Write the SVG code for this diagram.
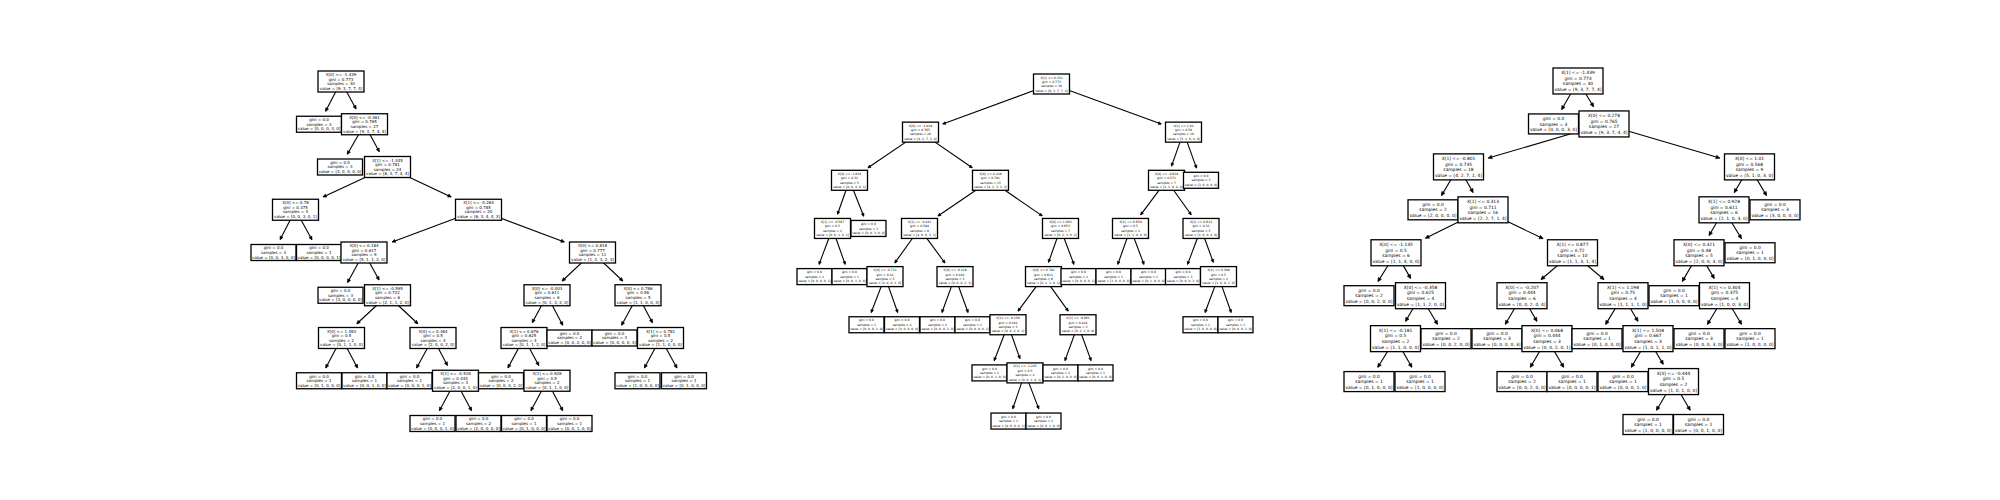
<svg xmlns="http://www.w3.org/2000/svg" width="2000" height="500" viewBox="0 0 2000 500">
<style>
.b{fill:#fff;stroke:#000;stroke-width:1.3}
.s1,.s2,.s3{font-family:"DejaVu Sans",sans-serif;text-anchor:middle;fill:#000}
.s1{font-size:4px}
.s2{font-size:3.05px}
.s3{font-size:4.4px}
.e line{stroke:#000;stroke-width:1.1;fill:none}
</style>
<defs>
<marker id="ah1" markerUnits="userSpaceOnUse" markerWidth="1" markerHeight="1" refX="0" refY="0" orient="auto" overflow="visible"><path d="M-3.2,-1.6 L0,0 L-3.2,1.6 Z" fill="#000" stroke="#000" stroke-width="0.6" stroke-linejoin="round"/></marker>
<marker id="ah2" markerUnits="userSpaceOnUse" markerWidth="1" markerHeight="1" refX="0" refY="0" orient="auto" overflow="visible"><path d="M-2.8,-1.4 L0,0 L-2.8,1.4 Z" fill="#000" stroke="#000" stroke-width="0.6" stroke-linejoin="round"/></marker>
<marker id="ah3" markerUnits="userSpaceOnUse" markerWidth="1" markerHeight="1" refX="0" refY="0" orient="auto" overflow="visible"><path d="M-3.6,-1.8 L0,0 L-3.6,1.8 Z" fill="#000" stroke="#000" stroke-width="0.6" stroke-linejoin="round"/></marker>
</defs>
<rect x="0" y="0" width="2000" height="500" fill="#fff"/>

<g id="edges-tree1" class="e" marker-end="url(#ah1)">
<line x1="341" y1="81.5" x2="325.63" y2="111.36"/>
<line x1="341" y1="81.5" x2="356.08" y2="108.93"/>
<line x1="364.5" y1="124.25" x2="347.32" y2="154.23"/>
<line x1="364.5" y1="124.25" x2="379.25" y2="151.66"/>
<line x1="387.5" y1="167" x2="323.08" y2="196.93"/>
<line x1="387.5" y1="167" x2="451.17" y2="196.91"/>
<line x1="295.5" y1="209.75" x2="280.13" y2="239.61"/>
<line x1="295.5" y1="209.75" x2="311.95" y2="239.68"/>
<line x1="478.5" y1="209.75" x2="392.16" y2="241.99"/>
<line x1="478.5" y1="209.75" x2="564.34" y2="241.94"/>
<line x1="364" y1="252.5" x2="347.55" y2="282.43"/>
<line x1="364" y1="252.5" x2="379.08" y2="279.93"/>
<line x1="592.5" y1="252.5" x2="562.18" y2="280.98"/>
<line x1="592.5" y1="252.5" x2="622.82" y2="280.98"/>
<line x1="387.5" y1="295.25" x2="356.83" y2="323.76"/>
<line x1="387.5" y1="295.25" x2="417.82" y2="323.73"/>
<line x1="547" y1="295.25" x2="532.25" y2="322.66"/>
<line x1="547" y1="295.25" x2="562.73" y2="325.14"/>
<line x1="638" y1="295.25" x2="621.55" y2="325.18"/>
<line x1="638" y1="295.25" x2="652.41" y2="322.64"/>
<line x1="341.5" y1="338" x2="325.77" y2="367.89"/>
<line x1="341.5" y1="338" x2="357.59" y2="367.91"/>
<line x1="433" y1="338" x2="416.55" y2="367.93"/>
<line x1="433" y1="338" x2="447.41" y2="365.39"/>
<line x1="524" y1="338" x2="507.91" y2="367.91"/>
<line x1="524" y1="338" x2="538.75" y2="365.41"/>
<line x1="660.5" y1="338" x2="644.41" y2="367.91"/>
<line x1="660.5" y1="338" x2="676.95" y2="367.93"/>
<line x1="455.5" y1="380.75" x2="439.41" y2="410.66"/>
<line x1="455.5" y1="380.75" x2="471.59" y2="410.66"/>
<line x1="547" y1="380.75" x2="530.91" y2="410.66"/>
<line x1="547" y1="380.75" x2="562.73" y2="410.64"/>
</g>

<g id="edges-tree2" class="e" marker-end="url(#ah2)">
<line x1="1051.5" y1="84" x2="942.72" y2="123.98"/>
<line x1="1051.5" y1="84" x2="1161.27" y2="124.04"/>
<line x1="920.5" y1="132.15" x2="867.97" y2="167.77"/>
<line x1="920.5" y1="132.15" x2="972.25" y2="167.75"/>
<line x1="1183.5" y1="132.15" x2="1171.53" y2="166.06"/>
<line x1="1183.5" y1="132.15" x2="1196.56" y2="168.07"/>
<line x1="849.5" y1="180.3" x2="837.53" y2="214.21"/>
<line x1="849.5" y1="180.3" x2="863.69" y2="216.27"/>
<line x1="990.5" y1="180.3" x2="937.97" y2="215.92"/>
<line x1="990.5" y1="180.3" x2="1042.25" y2="215.9"/>
<line x1="1166.5" y1="180.3" x2="1140.67" y2="214.84"/>
<line x1="1166.5" y1="180.3" x2="1191.21" y2="214.79"/>
<line x1="832.5" y1="228.45" x2="819.06" y2="264.39"/>
<line x1="832.5" y1="228.45" x2="845.18" y2="264.36"/>
<line x1="919.5" y1="228.45" x2="894.79" y2="262.94"/>
<line x1="919.5" y1="228.45" x2="944.96" y2="262.98"/>
<line x1="1060.5" y1="228.45" x2="1048.53" y2="262.36"/>
<line x1="1060.5" y1="228.45" x2="1073.94" y2="264.39"/>
<line x1="1130.5" y1="228.45" x2="1117.82" y2="264.36"/>
<line x1="1130.5" y1="228.45" x2="1143.94" y2="264.39"/>
<line x1="1201" y1="228.45" x2="1187.56" y2="264.39"/>
<line x1="1201" y1="228.45" x2="1213.33" y2="262.37"/>
<line x1="885" y1="276.6" x2="871.19" y2="312.55"/>
<line x1="885" y1="276.6" x2="897.68" y2="312.51"/>
<line x1="955" y1="276.6" x2="941.94" y2="312.52"/>
<line x1="955" y1="276.6" x2="968.06" y2="312.52"/>
<line x1="1043.5" y1="276.6" x2="1018.04" y2="311.13"/>
<line x1="1043.5" y1="276.6" x2="1068.21" y2="311.09"/>
<line x1="1218.5" y1="276.6" x2="1205.06" y2="312.54"/>
<line x1="1218.5" y1="276.6" x2="1231.18" y2="312.51"/>
<line x1="1008" y1="324.75" x2="994.19" y2="360.7"/>
<line x1="1008" y1="324.75" x2="1019.97" y2="358.66"/>
<line x1="1078" y1="324.75" x2="1064.94" y2="360.67"/>
<line x1="1078" y1="324.75" x2="1091.06" y2="360.67"/>
<line x1="1025" y1="372.9" x2="1012.7" y2="408.8"/>
<line x1="1025" y1="372.9" x2="1038.81" y2="408.85"/>
</g>

<g id="edges-tree3" class="e" marker-end="url(#ah3)">
<line x1="1578" y1="81" x2="1561.68" y2="109.6"/>
<line x1="1578" y1="81" x2="1593.54" y2="106.67"/>
<line x1="1604" y1="123.94" x2="1488.3" y2="158.09"/>
<line x1="1604" y1="123.94" x2="1719.7" y2="158.09"/>
<line x1="1458.5" y1="166.88" x2="1441.49" y2="195.52"/>
<line x1="1458.5" y1="166.88" x2="1473.11" y2="192.48"/>
<line x1="1749.5" y1="166.88" x2="1734.27" y2="192.52"/>
<line x1="1749.5" y1="166.88" x2="1766.51" y2="195.52"/>
<line x1="1483" y1="209.82" x2="1425.48" y2="238.21"/>
<line x1="1483" y1="209.82" x2="1542.99" y2="238.6"/>
<line x1="1724" y1="209.82" x2="1709.08" y2="235.44"/>
<line x1="1724" y1="209.82" x2="1741.35" y2="238.48"/>
<line x1="1396" y1="252.76" x2="1377.95" y2="281.47"/>
<line x1="1396" y1="252.76" x2="1410.61" y2="278.36"/>
<line x1="1572.5" y1="252.76" x2="1541.09" y2="279.46"/>
<line x1="1572.5" y1="252.76" x2="1603.91" y2="279.46"/>
<line x1="1699" y1="252.76" x2="1682.34" y2="281.38"/>
<line x1="1699" y1="252.76" x2="1714.23" y2="278.4"/>
<line x1="1420.5" y1="295.7" x2="1405.58" y2="321.32"/>
<line x1="1420.5" y1="295.7" x2="1437.51" y2="324.34"/>
<line x1="1522" y1="295.7" x2="1505.34" y2="324.32"/>
<line x1="1522" y1="295.7" x2="1536.92" y2="321.32"/>
<line x1="1623" y1="295.7" x2="1605.65" y2="324.36"/>
<line x1="1623" y1="295.7" x2="1637.92" y2="321.32"/>
<line x1="1724.5" y1="295.7" x2="1707.49" y2="324.34"/>
<line x1="1724.5" y1="295.7" x2="1741.51" y2="324.34"/>
<line x1="1395.5" y1="338.64" x2="1377.8" y2="367.32"/>
<line x1="1395.5" y1="338.64" x2="1411.82" y2="367.24"/>
<line x1="1547" y1="338.64" x2="1530.34" y2="367.26"/>
<line x1="1547" y1="338.64" x2="1563.66" y2="367.26"/>
<line x1="1648" y1="338.64" x2="1631.34" y2="367.26"/>
<line x1="1648" y1="338.64" x2="1663.23" y2="364.28"/>
<line x1="1673.5" y1="381.58" x2="1656.49" y2="410.22"/>
<line x1="1673.5" y1="381.58" x2="1690.16" y2="410.2"/>
</g>

<g id="tree1">
<g id="t1-a"><rect class="b" x="318" y="71" width="46" height="21"/><text class="s1" x="341" y="76.04"><tspan x="341">X[0] &lt;= -1.439</tspan><tspan x="341" dy="4.6">gini = 0.773</tspan><tspan x="341" dy="4.6">samples = 30</tspan><tspan x="341" dy="4.6">value = [9, 3, 7, 7, 4]</tspan></text></g>
<g id="t1-b"><rect class="b" x="296.5" y="116.25" width="45" height="16"/><text class="s1" x="319" y="121.09"><tspan x="319">gini = 0.0</tspan><tspan x="319" dy="4.6">samples = 3</tspan><tspan x="319" dy="4.6">value = [0, 0, 0, 3, 0]</tspan></text></g>
<g id="t1-c"><rect class="b" x="341.5" y="113.75" width="46" height="21"/><text class="s1" x="364.5" y="118.79"><tspan x="364.5">X[0] &lt;= -0.461</tspan><tspan x="364.5" dy="4.6">gini = 0.765</tspan><tspan x="364.5" dy="4.6">samples = 27</tspan><tspan x="364.5" dy="4.6">value = [9, 3, 7, 4, 4]</tspan></text></g>
<g id="t1-d"><rect class="b" x="317.5" y="159" width="45" height="16"/><text class="s1" x="340" y="163.84"><tspan x="340">gini = 0.0</tspan><tspan x="340" dy="4.6">samples = 3</tspan><tspan x="340" dy="4.6">value = [3, 0, 0, 0, 0]</tspan></text></g>
<g id="t1-e"><rect class="b" x="364.5" y="156.5" width="46" height="21"/><text class="s1" x="387.5" y="161.54"><tspan x="387.5">X[1] &lt;= -1.445</tspan><tspan x="387.5" dy="4.6">gini = 0.781</tspan><tspan x="387.5" dy="4.6">samples = 24</tspan><tspan x="387.5" dy="4.6">value = [6, 3, 7, 4, 4]</tspan></text></g>
<g id="t1-f"><rect class="b" x="272.5" y="199.25" width="46" height="21"/><text class="s1" x="295.5" y="204.29"><tspan x="295.5">X[0] &lt;= 0.78</tspan><tspan x="295.5" dy="4.6">gini = 0.375</tspan><tspan x="295.5" dy="4.6">samples = 4</tspan><tspan x="295.5" dy="4.6">value = [0, 0, 3, 0, 1]</tspan></text></g>
<g id="t1-g"><rect class="b" x="455.5" y="199.25" width="46" height="21"/><text class="s1" x="478.5" y="204.29"><tspan x="478.5">X[1] &lt;= -0.264</tspan><tspan x="478.5" dy="4.6">gini = 0.785</tspan><tspan x="478.5" dy="4.6">samples = 20</tspan><tspan x="478.5" dy="4.6">value = [6, 3, 4, 4, 3]</tspan></text></g>
<g id="t1-h"><rect class="b" x="251" y="244.5" width="45" height="16"/><text class="s1" x="273.5" y="249.34"><tspan x="273.5">gini = 0.0</tspan><tspan x="273.5" dy="4.6">samples = 3</tspan><tspan x="273.5" dy="4.6">value = [0, 0, 3, 0, 0]</tspan></text></g>
<g id="t1-i"><rect class="b" x="296.5" y="244.5" width="45" height="16"/><text class="s1" x="319" y="249.34"><tspan x="319">gini = 0.0</tspan><tspan x="319" dy="4.6">samples = 1</tspan><tspan x="319" dy="4.6">value = [0, 0, 0, 0, 1]</tspan></text></g>
<g id="t1-j"><rect class="b" x="341" y="242" width="46" height="21"/><text class="s1" x="364" y="247.04"><tspan x="364">X[0] &lt;= 0.184</tspan><tspan x="364" dy="4.6">gini = 0.617</tspan><tspan x="364" dy="4.6">samples = 9</tspan><tspan x="364" dy="4.6">value = [5, 1, 1, 2, 0]</tspan></text></g>
<g id="t1-k"><rect class="b" x="569.5" y="242" width="46" height="21"/><text class="s1" x="592.5" y="247.04"><tspan x="592.5">X[0] &lt;= 0.818</tspan><tspan x="592.5" dy="4.6">gini = 0.777</tspan><tspan x="592.5" dy="4.6">samples = 11</tspan><tspan x="592.5" dy="4.6">value = [1, 2, 3, 2, 3]</tspan></text></g>
<g id="t1-l"><rect class="b" x="318" y="287.25" width="45" height="16"/><text class="s1" x="340.5" y="292.09"><tspan x="340.5">gini = 0.0</tspan><tspan x="340.5" dy="4.6">samples = 3</tspan><tspan x="340.5" dy="4.6">value = [3, 0, 0, 0, 0]</tspan></text></g>
<g id="t1-m"><rect class="b" x="364.5" y="284.75" width="46" height="21"/><text class="s1" x="387.5" y="289.79"><tspan x="387.5">X[1] &lt;= -0.595</tspan><tspan x="387.5" dy="4.6">gini = 0.722</tspan><tspan x="387.5" dy="4.6">samples = 6</tspan><tspan x="387.5" dy="4.6">value = [2, 1, 1, 2, 0]</tspan></text></g>
<g id="t1-n"><rect class="b" x="524" y="284.75" width="46" height="21"/><text class="s1" x="547" y="289.79"><tspan x="547">X[0] &lt;= -0.003</tspan><tspan x="547" dy="4.6">gini = 0.611</tspan><tspan x="547" dy="4.6">samples = 6</tspan><tspan x="547" dy="4.6">value = [0, 1, 3, 2, 0]</tspan></text></g>
<g id="t1-o"><rect class="b" x="615" y="284.75" width="46" height="21"/><text class="s1" x="638" y="289.79"><tspan x="638">X[0] &lt;= 0.786</tspan><tspan x="638" dy="4.6">gini = 0.56</tspan><tspan x="638" dy="4.6">samples = 5</tspan><tspan x="638" dy="4.6">value = [1, 1, 0, 0, 3]</tspan></text></g>
<g id="t1-p"><rect class="b" x="318.5" y="327.5" width="46" height="21"/><text class="s1" x="341.5" y="332.54"><tspan x="341.5">X[0] &lt;= 1.483</tspan><tspan x="341.5" dy="4.6">gini = 0.5</tspan><tspan x="341.5" dy="4.6">samples = 2</tspan><tspan x="341.5" dy="4.6">value = [0, 1, 1, 0, 0]</tspan></text></g>
<g id="t1-q"><rect class="b" x="410" y="327.5" width="46" height="21"/><text class="s1" x="433" y="332.54"><tspan x="433">X[0] &lt;= 0.384</tspan><tspan x="433" dy="4.6">gini = 0.5</tspan><tspan x="433" dy="4.6">samples = 4</tspan><tspan x="433" dy="4.6">value = [2, 0, 0, 2, 0]</tspan></text></g>
<g id="t1-r"><rect class="b" x="501" y="327.5" width="46" height="21"/><text class="s1" x="524" y="332.54"><tspan x="524">X[1] &lt;= 0.676</tspan><tspan x="524" dy="4.6">gini = 0.625</tspan><tspan x="524" dy="4.6">samples = 4</tspan><tspan x="524" dy="4.6">value = [0, 1, 1, 2, 0]</tspan></text></g>
<g id="t1-s"><rect class="b" x="547" y="330" width="45" height="16"/><text class="s1" x="569.5" y="334.84"><tspan x="569.5">gini = 0.0</tspan><tspan x="569.5" dy="4.6">samples = 2</tspan><tspan x="569.5" dy="4.6">value = [0, 0, 2, 0, 0]</tspan></text></g>
<g id="t1-t"><rect class="b" x="592" y="330" width="45" height="16"/><text class="s1" x="614.5" y="334.84"><tspan x="614.5">gini = 0.0</tspan><tspan x="614.5" dy="4.6">samples = 3</tspan><tspan x="614.5" dy="4.6">value = [0, 0, 0, 0, 3]</tspan></text></g>
<g id="t1-u"><rect class="b" x="637.5" y="327.5" width="46" height="21"/><text class="s1" x="660.5" y="332.54"><tspan x="660.5">X[1] &lt;= 0.781</tspan><tspan x="660.5" dy="4.6">gini = 0.5</tspan><tspan x="660.5" dy="4.6">samples = 2</tspan><tspan x="660.5" dy="4.6">value = [1, 1, 0, 0, 0]</tspan></text></g>
<g id="t1-v"><rect class="b" x="296.5" y="372.75" width="45" height="16"/><text class="s1" x="319" y="377.59"><tspan x="319">gini = 0.0</tspan><tspan x="319" dy="4.6">samples = 1</tspan><tspan x="319" dy="4.6">value = [0, 1, 0, 0, 0]</tspan></text></g>
<g id="t1-w"><rect class="b" x="342" y="372.75" width="45" height="16"/><text class="s1" x="364.5" y="377.59"><tspan x="364.5">gini = 0.0</tspan><tspan x="364.5" dy="4.6">samples = 1</tspan><tspan x="364.5" dy="4.6">value = [0, 0, 1, 0, 0]</tspan></text></g>
<g id="t1-x"><rect class="b" x="387" y="372.75" width="45" height="16"/><text class="s1" x="409.5" y="377.59"><tspan x="409.5">gini = 0.0</tspan><tspan x="409.5" dy="4.6">samples = 1</tspan><tspan x="409.5" dy="4.6">value = [0, 0, 0, 1, 0]</tspan></text></g>
<g id="t1-y"><rect class="b" x="432.5" y="370.25" width="46" height="21"/><text class="s1" x="455.5" y="375.29"><tspan x="455.5">X[1] &lt;= -0.528</tspan><tspan x="455.5" dy="4.6">gini = 0.444</tspan><tspan x="455.5" dy="4.6">samples = 3</tspan><tspan x="455.5" dy="4.6">value = [2, 0, 0, 1, 0]</tspan></text></g>
<g id="t1-z"><rect class="b" x="478.5" y="372.75" width="45" height="16"/><text class="s1" x="501" y="377.59"><tspan x="501">gini = 0.0</tspan><tspan x="501" dy="4.6">samples = 2</tspan><tspan x="501" dy="4.6">value = [0, 0, 0, 2, 0]</tspan></text></g>
<g id="t1-aa"><rect class="b" x="524" y="370.25" width="46" height="21"/><text class="s1" x="547" y="375.29"><tspan x="547">X[1] &lt;= 0.928</tspan><tspan x="547" dy="4.6">gini = 0.5</tspan><tspan x="547" dy="4.6">samples = 2</tspan><tspan x="547" dy="4.6">value = [0, 1, 1, 0, 0]</tspan></text></g>
<g id="t1-ab"><rect class="b" x="615" y="372.75" width="45" height="16"/><text class="s1" x="637.5" y="377.59"><tspan x="637.5">gini = 0.0</tspan><tspan x="637.5" dy="4.6">samples = 1</tspan><tspan x="637.5" dy="4.6">value = [1, 0, 0, 0, 0]</tspan></text></g>
<g id="t1-ac"><rect class="b" x="661.5" y="372.75" width="45" height="16"/><text class="s1" x="684" y="377.59"><tspan x="684">gini = 0.0</tspan><tspan x="684" dy="4.6">samples = 1</tspan><tspan x="684" dy="4.6">value = [0, 1, 0, 0, 0]</tspan></text></g>
<g id="t1-ad"><rect class="b" x="410" y="415.5" width="45" height="16"/><text class="s1" x="432.5" y="420.34"><tspan x="432.5">gini = 0.0</tspan><tspan x="432.5" dy="4.6">samples = 1</tspan><tspan x="432.5" dy="4.6">value = [0, 0, 0, 1, 0]</tspan></text></g>
<g id="t1-ae"><rect class="b" x="456" y="415.5" width="45" height="16"/><text class="s1" x="478.5" y="420.34"><tspan x="478.5">gini = 0.0</tspan><tspan x="478.5" dy="4.6">samples = 2</tspan><tspan x="478.5" dy="4.6">value = [2, 0, 0, 0, 0]</tspan></text></g>
<g id="t1-af"><rect class="b" x="501.5" y="415.5" width="45" height="16"/><text class="s1" x="524" y="420.34"><tspan x="524">gini = 0.0</tspan><tspan x="524" dy="4.6">samples = 1</tspan><tspan x="524" dy="4.6">value = [0, 1, 0, 0, 0]</tspan></text></g>
<g id="t1-ag"><rect class="b" x="547" y="415.5" width="45" height="16"/><text class="s1" x="569.5" y="420.34"><tspan x="569.5">gini = 0.0</tspan><tspan x="569.5" dy="4.6">samples = 1</tspan><tspan x="569.5" dy="4.6">value = [0, 0, 1, 0, 0]</tspan></text></g>
</g>

<g id="tree2">
<g id="t2-r"><rect class="b" x="1033.5" y="74" width="36" height="20"/><text class="s2" x="1051.5" y="78.5"><tspan x="1051.5">X[1] &lt;= 0.252</tspan><tspan x="1051.5" dy="4.4">gini = 0.773</tspan><tspan x="1051.5" dy="4.4">samples = 30</tspan><tspan x="1051.5" dy="4.4">value = [9, 3, 7, 7, 4]</tspan></text></g>
<g id="t2-1a"><rect class="b" x="902.5" y="122.15" width="36" height="20"/><text class="s2" x="920.5" y="126.65"><tspan x="920.5">X[0] &lt;= -1.029</tspan><tspan x="920.5" dy="4.4">gini = 0.765</tspan><tspan x="920.5" dy="4.4">samples = 20</tspan><tspan x="920.5" dy="4.4">value = [4, 2, 7, 3, 4]</tspan></text></g>
<g id="t2-1b"><rect class="b" x="1165.5" y="122.15" width="36" height="20"/><text class="s2" x="1183.5" y="126.65"><tspan x="1183.5">X[1] &lt;= 1.01</tspan><tspan x="1183.5" dy="4.4">gini = 0.58</tspan><tspan x="1183.5" dy="4.4">samples = 10</tspan><tspan x="1183.5" dy="4.4">value = [5, 1, 0, 4, 0]</tspan></text></g>
<g id="t2-2a"><rect class="b" x="831.5" y="170.3" width="36" height="20"/><text class="s2" x="849.5" y="174.8"><tspan x="849.5">X[0] &lt;= -1.834</tspan><tspan x="849.5" dy="4.4">gini = 0.32</tspan><tspan x="849.5" dy="4.4">samples = 5</tspan><tspan x="849.5" dy="4.4">value = [0, 0, 4, 0, 1]</tspan></text></g>
<g id="t2-2b"><rect class="b" x="972.5" y="170.3" width="36" height="20"/><text class="s2" x="990.5" y="174.8"><tspan x="990.5">X[0] &lt;= 0.228</tspan><tspan x="990.5" dy="4.4">gini = 0.791</tspan><tspan x="990.5" dy="4.4">samples = 15</tspan><tspan x="990.5" dy="4.4">value = [4, 2, 3, 3, 3]</tspan></text></g>
<g id="t2-2c"><rect class="b" x="1148.5" y="170.3" width="36" height="20"/><text class="s2" x="1166.5" y="174.8"><tspan x="1166.5">X[0] &lt;= -0.618</tspan><tspan x="1166.5" dy="4.4">gini = 0.571</tspan><tspan x="1166.5" dy="4.4">samples = 7</tspan><tspan x="1166.5" dy="4.4">value = [2, 1, 0, 4, 0]</tspan></text></g>
<g id="t2-2d"><rect class="b" x="1183.5" y="172.3" width="35" height="16"/><text class="s2" x="1201" y="177"><tspan x="1201">gini = 0.0</tspan><tspan x="1201" dy="4.4">samples = 3</tspan><tspan x="1201" dy="4.4">value = [3, 0, 0, 0, 0]</tspan></text></g>
<g id="t2-3a"><rect class="b" x="814.5" y="218.45" width="36" height="20"/><text class="s2" x="832.5" y="222.95"><tspan x="832.5">X[1] &lt;= -0.567</tspan><tspan x="832.5" dy="4.4">gini = 0.5</tspan><tspan x="832.5" dy="4.4">samples = 2</tspan><tspan x="832.5" dy="4.4">value = [0, 0, 1, 0, 1]</tspan></text></g>
<g id="t2-3b"><rect class="b" x="851" y="220.45" width="35" height="16"/><text class="s2" x="868.5" y="225.15"><tspan x="868.5">gini = 0.0</tspan><tspan x="868.5" dy="4.4">samples = 3</tspan><tspan x="868.5" dy="4.4">value = [0, 0, 3, 0, 0]</tspan></text></g>
<g id="t2-3c"><rect class="b" x="901.5" y="218.45" width="36" height="20"/><text class="s2" x="919.5" y="222.95"><tspan x="919.5">X[1] &lt;= -0.441</tspan><tspan x="919.5" dy="4.4">gini = 0.594</tspan><tspan x="919.5" dy="4.4">samples = 8</tspan><tspan x="919.5" dy="4.4">value = [4, 0, 0, 3, 1]</tspan></text></g>
<g id="t2-3d"><rect class="b" x="1042.5" y="218.45" width="36" height="20"/><text class="s2" x="1060.5" y="222.95"><tspan x="1060.5">X[0] &lt;= 1.003</tspan><tspan x="1060.5" dy="4.4">gini = 0.653</tspan><tspan x="1060.5" dy="4.4">samples = 7</tspan><tspan x="1060.5" dy="4.4">value = [0, 2, 3, 0, 2]</tspan></text></g>
<g id="t2-3e"><rect class="b" x="1112.5" y="218.45" width="36" height="20"/><text class="s2" x="1130.5" y="222.95"><tspan x="1130.5">X[1] &lt;= 0.659</tspan><tspan x="1130.5" dy="4.4">gini = 0.5</tspan><tspan x="1130.5" dy="4.4">samples = 2</tspan><tspan x="1130.5" dy="4.4">value = [1, 1, 0, 0, 0]</tspan></text></g>
<g id="t2-3f"><rect class="b" x="1183" y="218.45" width="36" height="20"/><text class="s2" x="1201" y="222.95"><tspan x="1201">X[1] &lt;= 0.612</tspan><tspan x="1201" dy="4.4">gini = 0.32</tspan><tspan x="1201" dy="4.4">samples = 5</tspan><tspan x="1201" dy="4.4">value = [1, 0, 0, 4, 0]</tspan></text></g>
<g id="t2-4a"><rect class="b" x="797" y="268.6" width="35" height="16"/><text class="s2" x="814.5" y="273.3"><tspan x="814.5">gini = 0.0</tspan><tspan x="814.5" dy="4.4">samples = 1</tspan><tspan x="814.5" dy="4.4">value = [0, 0, 0, 0, 1]</tspan></text></g>
<g id="t2-4b"><rect class="b" x="832" y="268.6" width="35" height="16"/><text class="s2" x="849.5" y="273.3"><tspan x="849.5">gini = 0.0</tspan><tspan x="849.5" dy="4.4">samples = 1</tspan><tspan x="849.5" dy="4.4">value = [0, 0, 1, 0, 0]</tspan></text></g>
<g id="t2-4c"><rect class="b" x="867" y="266.6" width="36" height="20"/><text class="s2" x="885" y="271.1"><tspan x="885">X[0] &lt;= -0.711</tspan><tspan x="885" dy="4.4">gini = 0.32</tspan><tspan x="885" dy="4.4">samples = 5</tspan><tspan x="885" dy="4.4">value = [4, 0, 0, 1, 0]</tspan></text></g>
<g id="t2-4d"><rect class="b" x="937" y="266.6" width="36" height="20"/><text class="s2" x="955" y="271.1"><tspan x="955">X[0] &lt;= -0.218</tspan><tspan x="955" dy="4.4">gini = 0.444</tspan><tspan x="955" dy="4.4">samples = 3</tspan><tspan x="955" dy="4.4">value = [0, 0, 0, 2, 1]</tspan></text></g>
<g id="t2-4e"><rect class="b" x="1025.5" y="266.6" width="36" height="20"/><text class="s2" x="1043.5" y="271.1"><tspan x="1043.5">X[0] &lt;= 0.782</tspan><tspan x="1043.5" dy="4.4">gini = 0.611</tspan><tspan x="1043.5" dy="4.4">samples = 6</tspan><tspan x="1043.5" dy="4.4">value = [0, 2, 3, 0, 1]</tspan></text></g>
<g id="t2-4f"><rect class="b" x="1061" y="268.6" width="35" height="16"/><text class="s2" x="1078.5" y="273.3"><tspan x="1078.5">gini = 0.0</tspan><tspan x="1078.5" dy="4.4">samples = 1</tspan><tspan x="1078.5" dy="4.4">value = [0, 0, 0, 0, 1]</tspan></text></g>
<g id="t2-4g"><rect class="b" x="1096" y="268.6" width="35" height="16"/><text class="s2" x="1113.5" y="273.3"><tspan x="1113.5">gini = 0.0</tspan><tspan x="1113.5" dy="4.4">samples = 1</tspan><tspan x="1113.5" dy="4.4">value = [1, 0, 0, 0, 0]</tspan></text></g>
<g id="t2-4h"><rect class="b" x="1131" y="268.6" width="35" height="16"/><text class="s2" x="1148.5" y="273.3"><tspan x="1148.5">gini = 0.0</tspan><tspan x="1148.5" dy="4.4">samples = 1</tspan><tspan x="1148.5" dy="4.4">value = [0, 1, 0, 0, 0]</tspan></text></g>
<g id="t2-4i"><rect class="b" x="1165.5" y="268.6" width="35" height="16"/><text class="s2" x="1183" y="273.3"><tspan x="1183">gini = 0.0</tspan><tspan x="1183" dy="4.4">samples = 3</tspan><tspan x="1183" dy="4.4">value = [0, 0, 0, 3, 0]</tspan></text></g>
<g id="t2-4j"><rect class="b" x="1200.5" y="266.6" width="36" height="20"/><text class="s2" x="1218.5" y="271.1"><tspan x="1218.5">X[1] &lt;= 0.308</tspan><tspan x="1218.5" dy="4.4">gini = 0.5</tspan><tspan x="1218.5" dy="4.4">samples = 2</tspan><tspan x="1218.5" dy="4.4">value = [1, 0, 0, 1, 0]</tspan></text></g>
<g id="t2-5a"><rect class="b" x="849" y="316.75" width="35" height="16"/><text class="s2" x="866.5" y="321.45"><tspan x="866.5">gini = 0.0</tspan><tspan x="866.5" dy="4.4">samples = 1</tspan><tspan x="866.5" dy="4.4">value = [0, 0, 0, 1, 0]</tspan></text></g>
<g id="t2-5b"><rect class="b" x="884.5" y="316.75" width="35" height="16"/><text class="s2" x="902" y="321.45"><tspan x="902">gini = 0.0</tspan><tspan x="902" dy="4.4">samples = 4</tspan><tspan x="902" dy="4.4">value = [4, 0, 0, 0, 0]</tspan></text></g>
<g id="t2-5c"><rect class="b" x="920" y="316.75" width="35" height="16"/><text class="s2" x="937.5" y="321.45"><tspan x="937.5">gini = 0.0</tspan><tspan x="937.5" dy="4.4">samples = 2</tspan><tspan x="937.5" dy="4.4">value = [0, 0, 0, 2, 0]</tspan></text></g>
<g id="t2-5d"><rect class="b" x="955" y="316.75" width="35" height="16"/><text class="s2" x="972.5" y="321.45"><tspan x="972.5">gini = 0.0</tspan><tspan x="972.5" dy="4.4">samples = 1</tspan><tspan x="972.5" dy="4.4">value = [0, 0, 0, 0, 1]</tspan></text></g>
<g id="t2-5e"><rect class="b" x="990" y="314.75" width="36" height="20"/><text class="s2" x="1008" y="319.25"><tspan x="1008">X[1] &lt;= -0.158</tspan><tspan x="1008" dy="4.4">gini = 0.444</tspan><tspan x="1008" dy="4.4">samples = 3</tspan><tspan x="1008" dy="4.4">value = [0, 0, 2, 0, 1]</tspan></text></g>
<g id="t2-5f"><rect class="b" x="1060" y="314.75" width="36" height="20"/><text class="s2" x="1078" y="319.25"><tspan x="1078">X[1] &lt;= -0.061</tspan><tspan x="1078" dy="4.4">gini = 0.444</tspan><tspan x="1078" dy="4.4">samples = 3</tspan><tspan x="1078" dy="4.4">value = [0, 2, 1, 0, 0]</tspan></text></g>
<g id="t2-5g"><rect class="b" x="1183" y="316.75" width="35" height="16"/><text class="s2" x="1200.5" y="321.45"><tspan x="1200.5">gini = 0.0</tspan><tspan x="1200.5" dy="4.4">samples = 1</tspan><tspan x="1200.5" dy="4.4">value = [1, 0, 0, 0, 0]</tspan></text></g>
<g id="t2-5h"><rect class="b" x="1218" y="316.75" width="35" height="16"/><text class="s2" x="1235.5" y="321.45"><tspan x="1235.5">gini = 0.0</tspan><tspan x="1235.5" dy="4.4">samples = 1</tspan><tspan x="1235.5" dy="4.4">value = [0, 0, 0, 1, 0]</tspan></text></g>
<g id="t2-6a"><rect class="b" x="972" y="364.9" width="35" height="16"/><text class="s2" x="989.5" y="369.6"><tspan x="989.5">gini = 0.0</tspan><tspan x="989.5" dy="4.4">samples = 1</tspan><tspan x="989.5" dy="4.4">value = [0, 0, 1, 0, 0]</tspan></text></g>
<g id="t2-6b"><rect class="b" x="1007" y="362.9" width="36" height="20"/><text class="s2" x="1025" y="367.4"><tspan x="1025">X[1] &lt;= -1.245</tspan><tspan x="1025" dy="4.4">gini = 0.5</tspan><tspan x="1025" dy="4.4">samples = 2</tspan><tspan x="1025" dy="4.4">value = [0, 0, 1, 0, 1]</tspan></text></g>
<g id="t2-6c"><rect class="b" x="1043" y="364.9" width="35" height="16"/><text class="s2" x="1060.5" y="369.6"><tspan x="1060.5">gini = 0.0</tspan><tspan x="1060.5" dy="4.4">samples = 2</tspan><tspan x="1060.5" dy="4.4">value = [0, 2, 0, 0, 0]</tspan></text></g>
<g id="t2-6d"><rect class="b" x="1078" y="364.9" width="35" height="16"/><text class="s2" x="1095.5" y="369.6"><tspan x="1095.5">gini = 0.0</tspan><tspan x="1095.5" dy="4.4">samples = 1</tspan><tspan x="1095.5" dy="4.4">value = [0, 0, 1, 0, 0]</tspan></text></g>
<g id="t2-7a"><rect class="b" x="991" y="413.05" width="35" height="16"/><text class="s2" x="1008.5" y="417.75"><tspan x="1008.5">gini = 0.0</tspan><tspan x="1008.5" dy="4.4">samples = 1</tspan><tspan x="1008.5" dy="4.4">value = [0, 0, 0, 0, 1]</tspan></text></g>
<g id="t2-7b"><rect class="b" x="1026" y="413.05" width="35" height="16"/><text class="s2" x="1043.5" y="417.75"><tspan x="1043.5">gini = 0.0</tspan><tspan x="1043.5" dy="4.4">samples = 1</tspan><tspan x="1043.5" dy="4.4">value = [0, 0, 1, 0, 0]</tspan></text></g>
</g>

<g id="tree3">
<g id="t3-n0"><rect class="b" x="1553" y="68" width="50" height="26"/><text class="s3" x="1578" y="74.18"><tspan x="1578">X[1] &lt;= -1.439</tspan><tspan x="1578" dy="5.6">gini = 0.773</tspan><tspan x="1578" dy="5.6">samples = 30</tspan><tspan x="1578" dy="5.6">value = [9, 3, 7, 7, 4]</tspan></text></g>
<g id="t3-n1"><rect class="b" x="1528.5" y="113.94" width="50" height="20"/><text class="s3" x="1553.5" y="119.92"><tspan x="1553.5">gini = 0.0</tspan><tspan x="1553.5" dy="5.6">samples = 3</tspan><tspan x="1553.5" dy="5.6">value = [0, 0, 0, 3, 0]</tspan></text></g>
<g id="t3-n2"><rect class="b" x="1579" y="110.94" width="50" height="26"/><text class="s3" x="1604" y="117.12"><tspan x="1604">X[0] &lt;= 0.278</tspan><tspan x="1604" dy="5.6">gini = 0.765</tspan><tspan x="1604" dy="5.6">samples = 27</tspan><tspan x="1604" dy="5.6">value = [9, 3, 7, 4, 4]</tspan></text></g>
<g id="t3-n3"><rect class="b" x="1433.5" y="153.88" width="50" height="26"/><text class="s3" x="1458.5" y="160.06"><tspan x="1458.5">X[1] &lt;= -0.801</tspan><tspan x="1458.5" dy="5.6">gini = 0.735</tspan><tspan x="1458.5" dy="5.6">samples = 18</tspan><tspan x="1458.5" dy="5.6">value = [4, 2, 7, 1, 4]</tspan></text></g>
<g id="t3-n4"><rect class="b" x="1724.5" y="153.88" width="50" height="26"/><text class="s3" x="1749.5" y="160.06"><tspan x="1749.5">X[0] &lt;= 1.01</tspan><tspan x="1749.5" dy="5.6">gini = 0.568</tspan><tspan x="1749.5" dy="5.6">samples = 9</tspan><tspan x="1749.5" dy="5.6">value = [5, 1, 0, 3, 0]</tspan></text></g>
<g id="t3-n5"><rect class="b" x="1408" y="199.82" width="50" height="20"/><text class="s3" x="1433" y="205.8"><tspan x="1433">gini = 0.0</tspan><tspan x="1433" dy="5.6">samples = 2</tspan><tspan x="1433" dy="5.6">value = [2, 0, 0, 0, 0]</tspan></text></g>
<g id="t3-n6"><rect class="b" x="1458" y="196.82" width="50" height="26"/><text class="s3" x="1483" y="203"><tspan x="1483">X[1] &lt;= 0.313</tspan><tspan x="1483" dy="5.6">gini = 0.711</tspan><tspan x="1483" dy="5.6">samples = 16</tspan><tspan x="1483" dy="5.6">value = [2, 2, 7, 1, 4]</tspan></text></g>
<g id="t3-n7"><rect class="b" x="1699" y="196.82" width="50" height="26"/><text class="s3" x="1724" y="203"><tspan x="1724">X[1] &lt;= 0.928</tspan><tspan x="1724" dy="5.6">gini = 0.611</tspan><tspan x="1724" dy="5.6">samples = 6</tspan><tspan x="1724" dy="5.6">value = [2, 1, 0, 3, 0]</tspan></text></g>
<g id="t3-n8"><rect class="b" x="1750" y="199.82" width="50" height="20"/><text class="s3" x="1775" y="205.8"><tspan x="1775">gini = 0.0</tspan><tspan x="1775" dy="5.6">samples = 3</tspan><tspan x="1775" dy="5.6">value = [3, 0, 0, 0, 0]</tspan></text></g>
<g id="t3-n9"><rect class="b" x="1371" y="239.76" width="50" height="26"/><text class="s3" x="1396" y="245.94"><tspan x="1396">X[0] &lt;= -1.135</tspan><tspan x="1396" dy="5.6">gini = 0.5</tspan><tspan x="1396" dy="5.6">samples = 6</tspan><tspan x="1396" dy="5.6">value = [1, 1, 4, 0, 0]</tspan></text></g>
<g id="t3-n10"><rect class="b" x="1547.5" y="239.76" width="50" height="26"/><text class="s3" x="1572.5" y="245.94"><tspan x="1572.5">X[1] &lt;= 0.877</tspan><tspan x="1572.5" dy="5.6">gini = 0.72</tspan><tspan x="1572.5" dy="5.6">samples = 10</tspan><tspan x="1572.5" dy="5.6">value = [1, 1, 3, 1, 4]</tspan></text></g>
<g id="t3-n11"><rect class="b" x="1674" y="239.76" width="50" height="26"/><text class="s3" x="1699" y="245.94"><tspan x="1699">X[0] &lt;= 0.321</tspan><tspan x="1699" dy="5.6">gini = 0.48</tspan><tspan x="1699" dy="5.6">samples = 5</tspan><tspan x="1699" dy="5.6">value = [2, 0, 0, 3, 0]</tspan></text></g>
<g id="t3-n12"><rect class="b" x="1725" y="242.76" width="50" height="20"/><text class="s3" x="1750" y="248.74"><tspan x="1750">gini = 0.0</tspan><tspan x="1750" dy="5.6">samples = 1</tspan><tspan x="1750" dy="5.6">value = [0, 1, 0, 0, 0]</tspan></text></g>
<g id="t3-n13"><rect class="b" x="1344" y="285.7" width="50" height="20"/><text class="s3" x="1369" y="291.68"><tspan x="1369">gini = 0.0</tspan><tspan x="1369" dy="5.6">samples = 2</tspan><tspan x="1369" dy="5.6">value = [0, 0, 2, 0, 0]</tspan></text></g>
<g id="t3-n14"><rect class="b" x="1395.5" y="282.7" width="50" height="26"/><text class="s3" x="1420.5" y="288.88"><tspan x="1420.5">X[0] &lt;= -0.358</tspan><tspan x="1420.5" dy="5.6">gini = 0.625</tspan><tspan x="1420.5" dy="5.6">samples = 4</tspan><tspan x="1420.5" dy="5.6">value = [1, 1, 2, 0, 0]</tspan></text></g>
<g id="t3-n15"><rect class="b" x="1497" y="282.7" width="50" height="26"/><text class="s3" x="1522" y="288.88"><tspan x="1522">X[0] &lt;= -0.207</tspan><tspan x="1522" dy="5.6">gini = 0.444</tspan><tspan x="1522" dy="5.6">samples = 6</tspan><tspan x="1522" dy="5.6">value = [0, 0, 2, 0, 4]</tspan></text></g>
<g id="t3-n16"><rect class="b" x="1598" y="282.7" width="50" height="26"/><text class="s3" x="1623" y="288.88"><tspan x="1623">X[1] &lt;= 1.198</tspan><tspan x="1623" dy="5.6">gini = 0.75</tspan><tspan x="1623" dy="5.6">samples = 4</tspan><tspan x="1623" dy="5.6">value = [1, 1, 1, 1, 0]</tspan></text></g>
<g id="t3-n17"><rect class="b" x="1649" y="285.7" width="50" height="20"/><text class="s3" x="1674" y="291.68"><tspan x="1674">gini = 0.0</tspan><tspan x="1674" dy="5.6">samples = 1</tspan><tspan x="1674" dy="5.6">value = [1, 0, 0, 0, 0]</tspan></text></g>
<g id="t3-n18"><rect class="b" x="1699.5" y="282.7" width="50" height="26"/><text class="s3" x="1724.5" y="288.88"><tspan x="1724.5">X[1] &lt;= 0.304</tspan><tspan x="1724.5" dy="5.6">gini = 0.375</tspan><tspan x="1724.5" dy="5.6">samples = 4</tspan><tspan x="1724.5" dy="5.6">value = [1, 0, 0, 3, 0]</tspan></text></g>
<g id="t3-n19"><rect class="b" x="1370.5" y="325.64" width="50" height="26"/><text class="s3" x="1395.5" y="331.82"><tspan x="1395.5">X[1] &lt;= -0.181</tspan><tspan x="1395.5" dy="5.6">gini = 0.5</tspan><tspan x="1395.5" dy="5.6">samples = 2</tspan><tspan x="1395.5" dy="5.6">value = [1, 1, 0, 0, 0]</tspan></text></g>
<g id="t3-n20"><rect class="b" x="1421" y="328.64" width="50" height="20"/><text class="s3" x="1446" y="334.62"><tspan x="1446">gini = 0.0</tspan><tspan x="1446" dy="5.6">samples = 2</tspan><tspan x="1446" dy="5.6">value = [0, 0, 2, 0, 0]</tspan></text></g>
<g id="t3-n21"><rect class="b" x="1472" y="328.64" width="50" height="20"/><text class="s3" x="1497" y="334.62"><tspan x="1497">gini = 0.0</tspan><tspan x="1497" dy="5.6">samples = 3</tspan><tspan x="1497" dy="5.6">value = [0, 0, 0, 0, 3]</tspan></text></g>
<g id="t3-n22"><rect class="b" x="1522" y="325.64" width="50" height="26"/><text class="s3" x="1547" y="331.82"><tspan x="1547">X[0] &lt;= 0.068</tspan><tspan x="1547" dy="5.6">gini = 0.444</tspan><tspan x="1547" dy="5.6">samples = 3</tspan><tspan x="1547" dy="5.6">value = [0, 0, 2, 0, 1]</tspan></text></g>
<g id="t3-n23"><rect class="b" x="1572" y="328.64" width="50" height="20"/><text class="s3" x="1597" y="334.62"><tspan x="1597">gini = 0.0</tspan><tspan x="1597" dy="5.6">samples = 1</tspan><tspan x="1597" dy="5.6">value = [0, 1, 0, 0, 0]</tspan></text></g>
<g id="t3-n24"><rect class="b" x="1623" y="325.64" width="50" height="26"/><text class="s3" x="1648" y="331.82"><tspan x="1648">X[1] &lt;= 1.508</tspan><tspan x="1648" dy="5.6">gini = 0.667</tspan><tspan x="1648" dy="5.6">samples = 3</tspan><tspan x="1648" dy="5.6">value = [1, 0, 1, 1, 0]</tspan></text></g>
<g id="t3-n25"><rect class="b" x="1674" y="328.64" width="50" height="20"/><text class="s3" x="1699" y="334.62"><tspan x="1699">gini = 0.0</tspan><tspan x="1699" dy="5.6">samples = 3</tspan><tspan x="1699" dy="5.6">value = [0, 0, 0, 3, 0]</tspan></text></g>
<g id="t3-n26"><rect class="b" x="1725" y="328.64" width="50" height="20"/><text class="s3" x="1750" y="334.62"><tspan x="1750">gini = 0.0</tspan><tspan x="1750" dy="5.6">samples = 1</tspan><tspan x="1750" dy="5.6">value = [1, 0, 0, 0, 0]</tspan></text></g>
<g id="t3-n27"><rect class="b" x="1344" y="371.58" width="50" height="20"/><text class="s3" x="1369" y="377.56"><tspan x="1369">gini = 0.0</tspan><tspan x="1369" dy="5.6">samples = 1</tspan><tspan x="1369" dy="5.6">value = [0, 1, 0, 0, 0]</tspan></text></g>
<g id="t3-n28"><rect class="b" x="1395" y="371.58" width="50" height="20"/><text class="s3" x="1420" y="377.56"><tspan x="1420">gini = 0.0</tspan><tspan x="1420" dy="5.6">samples = 1</tspan><tspan x="1420" dy="5.6">value = [1, 0, 0, 0, 0]</tspan></text></g>
<g id="t3-n29"><rect class="b" x="1497" y="371.58" width="50" height="20"/><text class="s3" x="1522" y="377.56"><tspan x="1522">gini = 0.0</tspan><tspan x="1522" dy="5.6">samples = 2</tspan><tspan x="1522" dy="5.6">value = [0, 0, 2, 0, 0]</tspan></text></g>
<g id="t3-n30"><rect class="b" x="1547" y="371.58" width="50" height="20"/><text class="s3" x="1572" y="377.56"><tspan x="1572">gini = 0.0</tspan><tspan x="1572" dy="5.6">samples = 1</tspan><tspan x="1572" dy="5.6">value = [0, 0, 0, 0, 1]</tspan></text></g>
<g id="t3-n31"><rect class="b" x="1598" y="371.58" width="50" height="20"/><text class="s3" x="1623" y="377.56"><tspan x="1623">gini = 0.0</tspan><tspan x="1623" dy="5.6">samples = 1</tspan><tspan x="1623" dy="5.6">value = [0, 0, 0, 1, 0]</tspan></text></g>
<g id="t3-n32"><rect class="b" x="1648.5" y="368.58" width="50" height="26"/><text class="s3" x="1673.5" y="374.76"><tspan x="1673.5">X[0] &lt;= -0.444</tspan><tspan x="1673.5" dy="5.6">gini = 0.5</tspan><tspan x="1673.5" dy="5.6">samples = 2</tspan><tspan x="1673.5" dy="5.6">value = [1, 0, 1, 0, 0]</tspan></text></g>
<g id="t3-n33"><rect class="b" x="1623" y="414.52" width="50" height="20"/><text class="s3" x="1648" y="420.5"><tspan x="1648">gini = 0.0</tspan><tspan x="1648" dy="5.6">samples = 1</tspan><tspan x="1648" dy="5.6">value = [1, 0, 0, 0, 0]</tspan></text></g>
<g id="t3-n34"><rect class="b" x="1673.5" y="414.52" width="50" height="20"/><text class="s3" x="1698.5" y="420.5"><tspan x="1698.5">gini = 0.0</tspan><tspan x="1698.5" dy="5.6">samples = 1</tspan><tspan x="1698.5" dy="5.6">value = [0, 0, 1, 0, 0]</tspan></text></g>
</g>
</svg>
